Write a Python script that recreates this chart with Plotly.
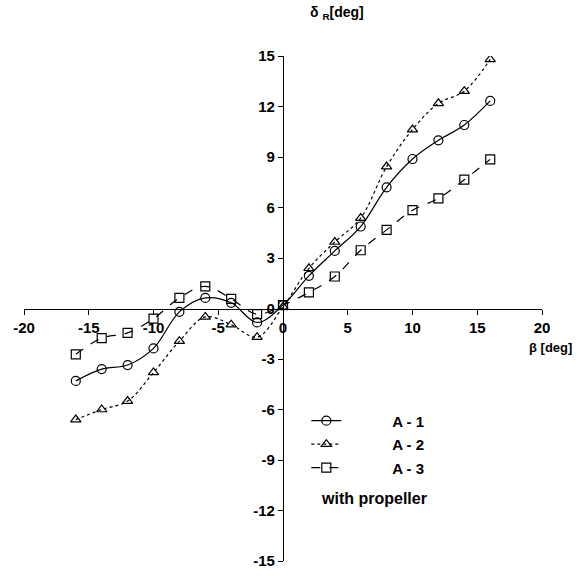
import plotly.graph_objects as go

beta = [-16, -14, -12, -10, -8, -6, -4, -2, 0, 2, 4, 6, 8, 10, 12, 14, 16]
a1 = [-4.3, -3.6, -3.36, -2.37, -0.2, 0.63, 0.34, -0.83, 0.2, 1.94, 3.42, 4.87, 7.2, 8.88, 9.99, 10.9, 12.33]
a2 = [-6.6, -6.0, -5.5, -3.8, -1.94, -0.5, -0.96, -1.7, 0.1, 2.39, 3.95, 5.37, 8.43, 10.63, 12.19, 12.91, 14.8]
a3 = [-2.72, -1.76, -1.45, -0.6, 0.63, 1.32, 0.57, -0.34, 0.2, 0.96, 1.9, 3.46, 4.67, 5.84, 6.54, 7.65, 8.86]

series = [
    ("A - 1", a1, "circle-open", "solid"),
    ("A - 2", a2, "triangle-up-open", "dot"),
    ("A - 3", a3, "square-open", "dash"),
]

xticks = [-20, -15, -10, -5, 0, 5, 10, 15, 20]
yticks = [-15, -12, -9, -6, -3, 0, 3, 6, 9, 12, 15]

FONT = "Liberation Sans, Arial, sans-serif"
PAD = "\u00a0" * 11

fig = go.Figure()
for i, (name, vals, sym, dash) in enumerate(series):
    fig.add_trace(go.Scatter(
        x=beta, y=vals, mode="lines+markers",
        name=PAD + "<b>" + name + "</b>",
        legendgroup="g%d" % i,
        line=dict(color="black", width=1.2, dash=dash, shape="spline", smoothing=1),
        marker=dict(symbol=sym, size=9, color="black", line=dict(width=1.2, color="black")),
    ))

W, H, L, R, T, B = 584, 579, 24, 42, 56, 10
pw, ph = W - L - R, H - T - B

def px2paper(px, py):
    return (px - L) / pw, (H - B - py) / ph

labels = [
    ("<b>δ</b> <sub><b>R</b></sub><b>[deg]</b>", 337, 12, 14),
    ("<b>β [deg]</b>", 550, 352, 13),
    ("<b>with propeller</b>", 374, 506, 16),
]
ann = []
for text, px, py, fs in labels:
    x, y = px2paper(px, py)
    ann.append(dict(text=text, x=x, y=y, xref="paper", yref="paper", xanchor="center",
                    yanchor="middle", showarrow=False, font=dict(size=fs, family=FONT, color="black")))

fig.update_layout(
    width=W, height=H,
    margin=dict(l=L, r=R, t=T, b=B),
    paper_bgcolor="white", plot_bgcolor="white",
    font=dict(family=FONT, size=15, color="black"),
    showlegend=True,
    legend=dict(x=0.545, y=0.31, xanchor="left", yanchor="top",
                bgcolor="rgba(0,0,0,0)", tracegroupgap=1,
                font=dict(family=FONT, size=15, color="black")),
    xaxis=dict(range=[-20, 20], tickvals=xticks, ticktext=["<b>%d</b>" % v for v in xticks],
               showgrid=False, zeroline=False, showline=True, linecolor="black", linewidth=1.3,
               ticks="outside", ticklen=5, tickcolor="black", anchor="free", position=0.5,
               tickfont=dict(family=FONT, size=15)),
    yaxis=dict(range=[-15, 15], tickvals=yticks, ticktext=["<b>%d</b>" % v for v in yticks],
               showgrid=False, zeroline=False, showline=True, linecolor="black", linewidth=1.3,
               ticks="outside", ticklen=5, tickcolor="black", anchor="free", position=0.5,
               tickfont=dict(family=FONT, size=15)),
    annotations=ann,
)

fig.write_html("out.html")
